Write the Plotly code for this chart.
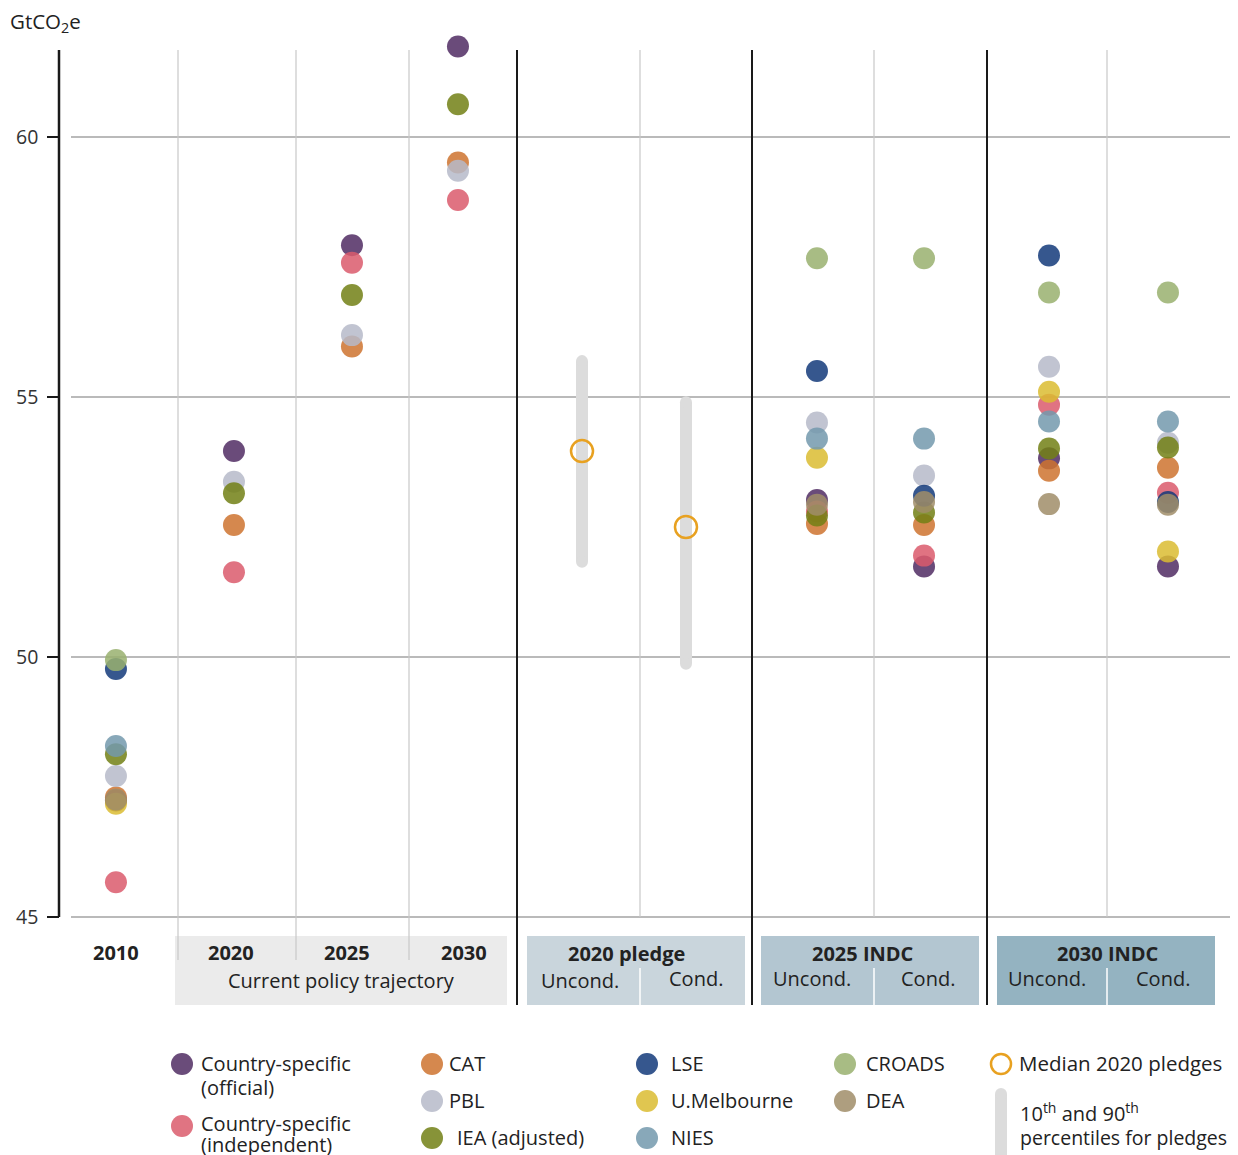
import plotly.graph_objects as go

# ---------------- data ----------------
columns = ["2010", "2020", "2025", "2030",
           "2020 pledge Uncond.", "2020 pledge Cond.",
           "2025 INDC Uncond.", "2025 INDC Cond.",
           "2030 INDC Uncond.", "2030 INDC Cond."]

models = ["Country-specific (official)", "Country-specific (independent)", "CAT", "PBL",
          "IEA (adjusted)", "LSE", "U.Melbourne", "NIES", "CROADS", "DEA"]

official    = [47.24, 53.96, 57.92, 61.74, None, None, 53.02, 51.74, 53.82, 51.74]
independent = [45.67, 51.63, 57.58, 58.79, None, None, 52.80, 51.95, 54.85, 53.16]
cat         = [47.30, 52.54, 55.97, 59.51, None, None, 52.56, 52.54, 53.58, 53.64]
pbl         = [47.71, 53.37, 56.19, 59.35, None, None, 54.51, 53.49, 55.58, 54.12]
iea         = [48.13, 53.15, 56.96, 60.63, None, None, 52.72, 52.78, 54.01, 54.03]
lse         = [49.77, None, None, None, None, None, 55.50, 53.10, 57.72, 52.98]
umelb       = [47.18, None, None, None, None, None, 53.83, None, 55.10, 52.03]
nies        = [48.29, None, None, None, None, None, 54.20, 54.20, 54.53, 54.53]
croads      = [49.94, None, None, None, None, None, 57.67, 57.67, 57.01, 57.01]
dea         = [47.26, None, None, None, None, None, 52.93, 52.98, 52.94, 52.93]
model_values = [official, independent, cat, pbl, iea, lse, umelb, nies, croads, dea]

pledge_columns = ["2020 pledge Uncond.", "2020 pledge Cond."]
pledge_median = [53.96, 52.50]
pledge_p10 = [51.83, 49.87]
pledge_p90 = [55.69, 54.90]

y_ticks = [45, 50, 55, 60]

# ---------------- styling / layout helpers ----------------
target_colors = ["#6a4c7a", "#e07482", "#d5884e", "#c1c4d1", "#879338",
                 "#36578e", "#e0c650", "#88a8b9", "#a8bc84", "#ae9e7f"]
ALPHA = 0.85


def compensate(hexcol, a=ALPHA):
    """Darken a colour so that at opacity a over white it shows as hexcol."""
    h = hexcol.lstrip("#")
    rgb = [int(h[i:i + 2], 16) for i in (0, 2, 4)]
    out = [max(0, min(255, round((c - (1 - a) * 255) / a))) for c in rgb]
    return "rgb({},{},{})".format(*out)


marker_colors = [compensate(c) for c in target_colors]
MEDIAN_COLOR = "#e8a120"
BAR_COLOR = "#dcdcdc"
FONT = "Open Sans"
TXT = "#222222"

PAGE_W, PAGE_H = 1238, 1155
OFF = 8                        # page body margin
W, H = PAGE_W - OFF, PAGE_H - OFF
X0, XS = 59.0, 117.9          # page pixel of x=0, pixels per slot
Y60, YS = 137.0, 52.0         # page pixel of y=60, pixels per unit


def X(px):
    return (px - X0) / XS


def Y(py):
    return 60 - (py - Y60) / YS


# column centres (slot units on the x axis)
col_x = dict(zip(columns, [0.483, 1.484, 2.485, 3.384, 4.436, 5.318,
                           6.429, 7.337, 8.397, 9.406]))

fig = go.Figure()

# percentile bars (round caps via end markers)
for c, lo, hi in zip(pledge_columns, pledge_p10, pledge_p90):
    fig.add_trace(go.Scatter(
        x=[col_x[c], col_x[c]], y=[lo, hi], mode="lines+markers",
        line=dict(color=BAR_COLOR, width=12),
        marker=dict(color=BAR_COLOR, size=12),
        hoverinfo="skip", showlegend=False))

fig.add_trace(go.Scatter(
    x=[col_x[c] for c in pledge_columns], y=pledge_median, mode="markers",
    marker=dict(symbol="circle-open", size=22, color=MEDIAN_COLOR,
                line=dict(width=2.5, color=MEDIAN_COLOR)),
    name="Median 2020 pledges", showlegend=False))

for name, vals, col in zip(models, model_values, marker_colors):
    xs = [col_x[c] for c, v in zip(columns, vals) if v is not None]
    ys = [v for v in vals if v is not None]
    fig.add_trace(go.Scatter(
        x=xs, y=ys, mode="markers", name=name,
        marker=dict(size=22, color=col, opacity=ALPHA, line=dict(width=0)),
        showlegend=False))

shapes = []


def line(px0, py0, px1, py1, color, width, layer="below"):
    shapes.append(dict(type="line", xref="x", yref="y",
                       x0=X(px0), y0=Y(py0), x1=X(px1), y1=Y(py1),
                       line=dict(color=color, width=width), layer=layer))


def rect(px0, py0, px1, py1, fill, layer="below"):
    shapes.append(dict(type="rect", xref="x", yref="y",
                       x0=X(px0), y0=Y(py1), x1=X(px1), y1=Y(py0),
                       fillcolor=fill, line=dict(width=0), layer=layer))


def circle(cx, cy, r, fill=None, outline=None, lw=0, layer="above"):
    shapes.append(dict(type="circle", xref="x", yref="y",
                       x0=X(cx - r), x1=X(cx + r), y0=Y(cy + r), y1=Y(cy - r),
                       fillcolor=fill if fill else "rgba(0,0,0,0)",
                       line=dict(color=outline if outline else "rgba(0,0,0,0)", width=lw),
                       layer=layer))


# category bands
rect(175, 936, 507, 1005, "#ebebeb")
rect(527, 936, 745, 1005, "#c9d5dc")
rect(761, 936, 979, 1005, "#b3c6d1")
rect(997, 936, 1215, 1005, "#94b3c1")

# horizontal grid lines
for v in y_ticks:
    shapes.append(dict(type="line", xref="x", yref="y", x0=X(71), x1=X(1238),
                       y0=v, y1=v, line=dict(color="#bababa", width=1.8), layer="below"))

# light vertical separators
for px in [178, 296, 409]:
    line(px, 50, px, 960, "#c8c8c8", 1.2)
for px in [640, 874, 1107]:
    line(px, 50, px, 917, "#c8c8c8", 1.2)
    line(px, 968, px, 1005, "#ffffff", 1.5)
# black group separators
for px in [517, 752, 987]:
    line(px, 50, px, 1005, "#1a1a1a", 2)

# y axis line and ticks
line(59, 50, 59, 917, "#1a1a1a", 2.5)
for v in y_ticks:
    shapes.append(dict(type="line", xref="x", yref="y", x0=X(47), x1=X(59),
                       y0=v, y1=v, line=dict(color="#1a1a1a", width=2), layer="below"))

annotations = []


def text(s, px, py, size=20, anchor="center", color=TXT):
    if anchor == "left":
        px -= 2
    annotations.append(dict(text=s, x=X(px), y=Y(py), xref="x", yref="y",
                            xanchor=anchor, yanchor="middle", showarrow=False,
                            font=dict(family=FONT, size=size, color=color)))


# unit label (paper reference so it is never hidden at the left edge)
annotations.append(dict(text="GtCO<sub>2</sub>e", x=0, y=Y(22), xref="paper", yref="y",
                        xanchor="left", yanchor="middle", showarrow=False,
                        font=dict(family=FONT, size=20.5, color=TXT)))

# x category labels
text("<b>2010</b>", 116, 952)
text("<b>2020</b>", 231, 952)
text("<b>2025</b>", 347, 952)
text("<b>2030</b>", 464, 952)
text("Current policy trajectory", 341, 980)
text("<b>2020 pledge</b>", 626, 953)
text("Uncond.", 580, 980)
text("Cond.", 696, 978)
text("<b>2025 INDC</b>", 863, 953)
text("Uncond.", 812, 978)
text("Cond.", 928, 978)
text("<b>2030 INDC</b>", 1108, 953)
text("Uncond.", 1047, 978)
text("Cond.", 1163, 978)

# legend (drawn manually to mirror the multi-column layout)
legend_items = [
    (0, 182, 1064, 201, [("Country-specific", 1063), ("(official)", 1087)]),
    (1, 182, 1126, 201, [("Country-specific", 1123), ("(independent)", 1144)]),
    (2, 432, 1064, 449, [("CAT", 1063)]),
    (3, 432, 1101, 449, [("PBL", 1100)]),
    (4, 432, 1138, 457, [("IEA (adjusted)", 1137)]),
    (5, 647, 1064, 671, [("LSE", 1063)]),
    (6, 647, 1101, 671, [("U.Melbourne", 1100)]),
    (7, 647, 1138, 671, [("NIES", 1137)]),
    (8, 845, 1064, 866, [("CROADS", 1063)]),
    (9, 845, 1101, 866, [("DEA", 1100)]),
]
for idx, dx, dy, tx, lines in legend_items:
    circle(dx, dy, 11, fill=target_colors[idx])
    for s, ty in lines:
        text(s, tx, ty, anchor="left")

circle(1001, 1064, 10, outline=MEDIAN_COLOR, lw=2.5)
text("Median 2020 pledges", 1019, 1063, size=20.5, anchor="left")
rect(995, 1094, 1007, 1160, BAR_COLOR, layer="above")
circle(1001, 1094, 6, fill=BAR_COLOR)
text("10<sup>th</sup> and 90<sup>th</sup>", 1020, 1112, anchor="left")
text("percentiles for pledges", 1020, 1137, size=19.5, anchor="left")

fig.update_layout(
    width=W, height=H, autosize=False,
    margin=dict(l=0, r=0, t=0, b=0, pad=0),
    paper_bgcolor="white", plot_bgcolor="white",
    shapes=shapes, annotations=annotations,
    xaxis=dict(range=[X(OFF), X(PAGE_W)], visible=False, fixedrange=True),
    yaxis=dict(range=[Y(PAGE_H), Y(OFF)], tickvals=y_ticks, ticktext=[str(v) for v in y_ticks],
               showgrid=False, zeroline=False, showline=False, ticks="",
               ticklabelposition="inside", ticklabelstandoff=5,
               tickfont=dict(family=FONT, size=19.5, color="#333333"),
               fixedrange=True),
    font=dict(family=FONT),
    showlegend=False,
)

fig.write_html("out.html", config={"displayModeBar": False})
